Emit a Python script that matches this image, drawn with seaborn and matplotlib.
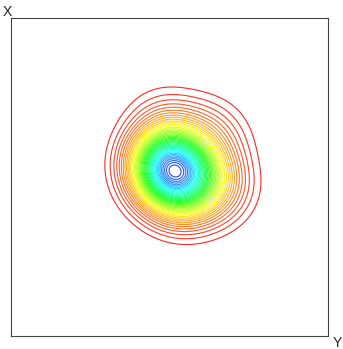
import numpy as np
import pandas as pd
import matplotlib
matplotlib.use("Agg")
import matplotlib.pyplot as plt
from matplotlib.colors import LinearSegmentedColormap
import seaborn as sns

# ---- data: small weighted sample whose density is contoured ----
x_vals = [0.5139, 0.6343, 0.4941, 0.4851, 0.5400, 0.6310]
y_vals = [0.5248, 0.4822, 0.6582, 0.5168, 0.4464, 0.6275]
w_vals = [0.5462, 0.1194, 0.0550, 0.1290, 0.0868, 0.0636]
bandwidth_factor = 1.3006
axis_top_label = "X"
axis_right_label = "Y"
n_levels = 45
lowest_level = 0.03

sns.set_theme(style="white")
plt.rcParams['font.family'] = ['Liberation Sans', 'DejaVu Sans']

fig = plt.figure(figsize=(3.43, 3.49), dpi=100)
fig.patch.set_facecolor("white")
ax = fig.add_axes([10.5 / 343, 1 - 336 / 349, 317.5 / 343, 318 / 349])

df = pd.DataFrame({"x": x_vals, "y": y_vals, "w": w_vals})
base = plt.get_cmap("hsv")
cmap = LinearSegmentedColormap.from_list("hsv_part", base(np.linspace(0.0, 0.667, 256)))

sns.kdeplot(data=df, x="x", y="y", weights="w", bw_method=bandwidth_factor,
            levels=n_levels, thresh=lowest_level, cmap=cmap,
            linewidths=0.8, alpha=0.85, gridsize=300, ax=ax)

ax.set_xlim(0, 1)
ax.set_ylim(0, 1)
ax.set_xticks([])
ax.set_yticks([])
ax.set_xlabel("")
ax.set_ylabel("")
ax.set_facecolor("white")
for s in ax.spines.values():
    s.set_color("#444444")
    s.set_linewidth(0.8)
    s.set_visible(True)

fig.text(7.8 / 343, 1 - 12 / 349, axis_top_label, ha="center", va="center",
         fontsize=10, color="#222222")
fig.text(337.5 / 343, 1 - 343 / 349, axis_right_label, ha="center", va="center",
         fontsize=10, color="#222222")

fig.savefig("out.png", dpi=100, facecolor="white")
